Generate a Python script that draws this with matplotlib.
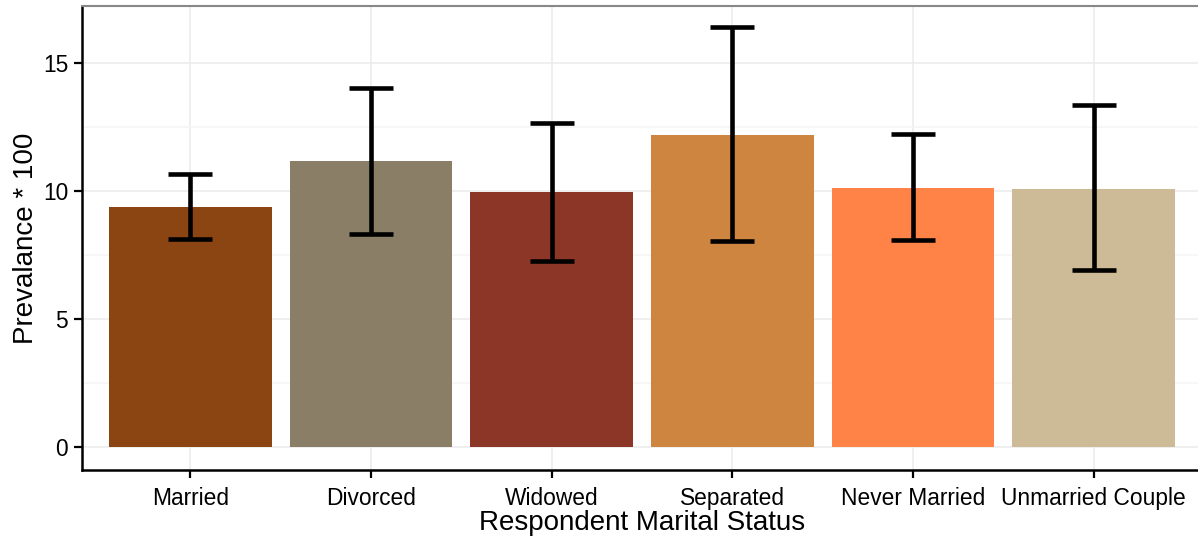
import matplotlib
matplotlib.use("Agg")
import matplotlib.pyplot as plt
from matplotlib.ticker import MultipleLocator

plt.rcParams['font.family'] = ['Liberation Sans', 'DejaVu Sans']

categories = ["Married", "Divorced", "Widowed", "Separated", "Never Married", "Unmarried Couple"]
prevalence = [9.39, 11.18, 9.97, 12.19, 10.13, 10.09]
lower = [8.14, 8.34, 7.28, 8.06, 8.10, 6.90]
upper = [10.67, 14.02, 12.66, 16.40, 12.23, 13.36]
colors = ["#8B4513", "#8B7E66", "#8B3626", "#CD853F", "#FF8247", "#CDBA96"]

fig = plt.figure(figsize=(11.98, 5.37), dpi=100)
ax = fig.add_axes([0.0684, 0.124, 0.935, 0.865])

x = list(range(len(categories)))
ax.bar(x, prevalence, width=0.9, color=colors, zorder=2)
yerr = [[p - lo for p, lo in zip(prevalence, lower)],
        [hi - p for p, hi in zip(prevalence, upper)]]
ax.errorbar(x, prevalence, yerr=yerr, fmt='none', ecolor='black',
            elinewidth=3.3, capsize=16, capthick=3.3, zorder=3)

ax.set_xlim(-0.6, 5.6)
ax.set_ylim(-0.9, 17.22)
ax.set_xticks(x)
ax.set_xticklabels(categories)
ax.yaxis.set_major_locator(MultipleLocator(5))
ax.yaxis.set_minor_locator(MultipleLocator(2.5))

ax.grid(which='major', color='#EBEBEB', linewidth=1.1, zorder=0)
ax.grid(which='minor', axis='y', color='#F5F5F5', linewidth=1.1, zorder=0)
ax.set_axisbelow(True)

for side in ['left', 'bottom']:
    ax.spines[side].set_linewidth(1.8)
    ax.spines[side].set_color('black')
ax.spines['top'].set_color('#888888')
ax.spines['top'].set_linewidth(1.5)
ax.spines['right'].set_visible(False)

ax.tick_params(axis='both', which='major', direction='out', length=6, width=1.6,
               labelsize=16.4, colors='black', pad=4)
ax.tick_params(axis='x', which='major', pad=6)
ax.tick_params(axis='y', which='minor', length=0)

ax.set_xlabel("Respondent Marital Status", fontsize=20, labelpad=0)
ax.set_ylabel("Prevalance * 100", fontsize=20, labelpad=3)

fig.savefig("out.png", dpi=100)
